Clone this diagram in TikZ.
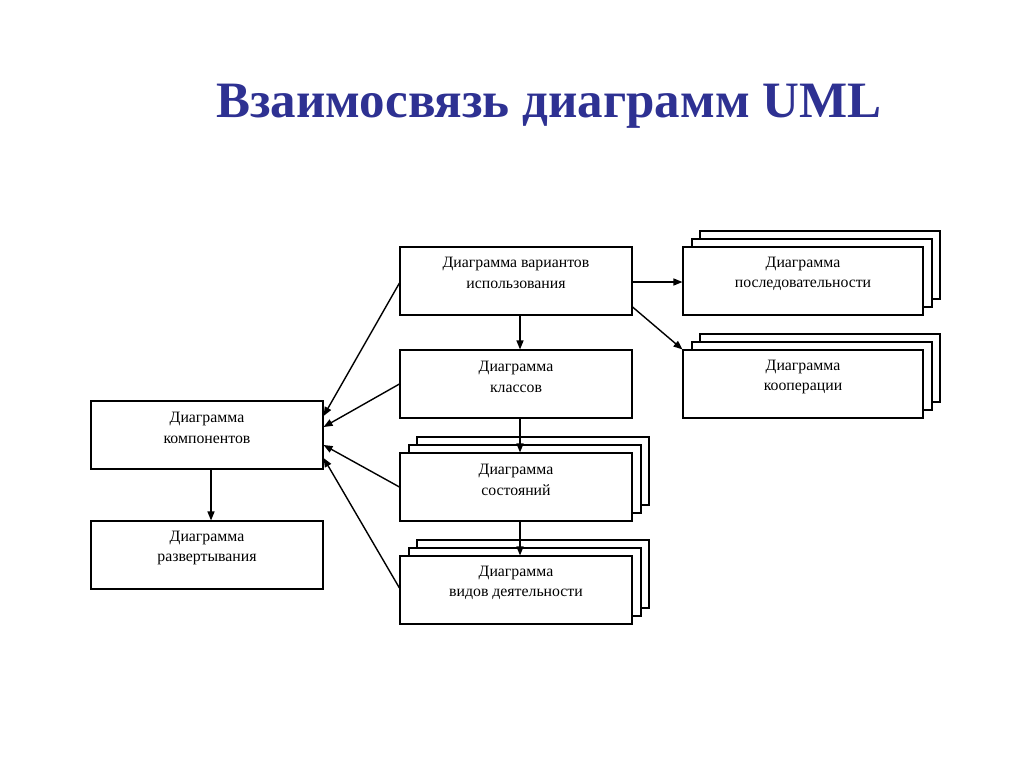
\documentclass[tikz,border=0pt]{standalone}
\usepackage{fontspec}
\setmainfont{Liberation Serif}
\usetikzlibrary{arrows.meta,shadows}

\definecolor{titleblue}{RGB}{46,49,146}

\begin{document}
\begin{tikzpicture}[x=1pt, y=-1pt, >={Triangle[length=9pt,width=7pt]},
  box/.style={draw, line width=1.1pt, fill=white, minimum width=232pt, minimum height=68pt, inner sep=0pt},
  wide/.style={box, minimum width=240pt},
  stack/.style={copy shadow={shadow xshift=17pt, shadow yshift=16pt, line width=1.1pt},
                copy shadow={shadow xshift=9pt, shadow yshift=8pt, line width=1.1pt}},
  txt/.style={align=center, font=\fontsize{15.8}{20.5}\selectfont},
  link/.style={->, line width=1.4pt}]

  % Rahmen der Folie
  \useasboundingbox (0,0) rectangle (1024,767);

  % Titel
  \node[anchor=base, text=titleblue, font=\fontsize{51}{55}\selectfont\bfseries] (title) at (549,118) {Взаимосвязь диаграмм UML};

  % Mittlere Spalte
  \node[box] (uc) at (516,281) {};
  \node[box] (cls) at (516,384) {};
  \node[box, stack] (st) at (516,487) {};
  \node[box, stack] (act) at (516,590) {};

  % Rechte Spalte
  \node[wide, stack] (seq) at (803,281) {};
  \node[wide, stack] (coop) at (803,384) {};

  % Linke Spalte
  \node[box] (comp) at (207,435) {};
  \node[box] (depl) at (207,555) {};

  % Beschriftungen (etwas oberhalb der Mitte)
  \node[txt] (uc-t) at ([yshift=8pt]uc) {Диаграмма вариантов\\использования};
  \node[txt] (cls-t) at ([yshift=7pt]cls) {Диаграмма\\классов};
  \node[txt] (st-t) at ([yshift=7pt]st) {Диаграмма\\состояний};
  \node[txt] (act-t) at ([yshift=7pt]act) {Диаграмма\\видов деятельности};
  \node[txt] (seq-t) at ([yshift=7pt]seq) {Диаграмма\\последовательности};
  \node[txt] (coop-t) at ([yshift=7pt]coop) {Диаграмма\\кооперации};
  \node[txt] (comp-t) at ([yshift=7pt]comp) {Диаграмма\\компонентов};
  \node[txt] (depl-t) at ([yshift=7pt]depl) {Диаграмма\\развертывания};

  % Pfeile nach unten
  \draw[link] ([xshift=4pt]uc.south) -- ([xshift=4pt]cls.north);
  \draw[link] ([xshift=4pt]cls.south) -- ([xshift=4pt]st.north);
  \draw[link] ([xshift=4pt]st.south) -- ([xshift=4pt]act.north);
  \draw[link] ([xshift=4pt]comp.south) -- ([xshift=4pt]depl.north);

  % Pfeile nach rechts
  \draw[link] ([yshift=-1pt]uc.east) -- ([yshift=-1pt]seq.west);
  \draw[link] ([yshift=-26pt]uc.east) -- (coop.north west);

  % Pfeile zur Komponentendiagramm
  \draw[link] ([yshift=-2pt]uc.west) -- ([yshift=19pt]comp.east);
  \draw[link] (cls.west) -- ([yshift=8pt]comp.east);
  \draw[link] (st.west) -- ([yshift=-10pt]comp.east);
  \draw[link] ([yshift=2pt]act.west) -- ([yshift=-23pt]comp.east);

\end{tikzpicture}
\end{document}
